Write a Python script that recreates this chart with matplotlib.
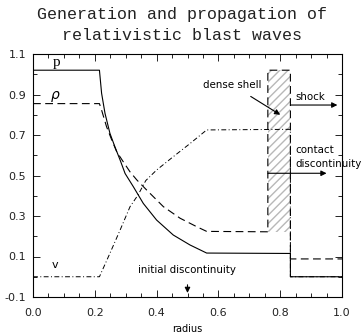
import matplotlib

matplotlib.use("Agg")
import matplotlib.pyplot as plt
from matplotlib.patches import Rectangle
from matplotlib.ticker import MultipleLocator

# pressure (solid)
p_r = [0.0, 0.215, 0.222, 0.233, 0.249, 0.265, 0.282, 0.298, 0.325, 0.357,
       0.400, 0.454, 0.508, 0.562, 0.833, 0.833, 1.0]
p_val = [1.02, 1.02, 0.906, 0.807, 0.708, 0.642, 0.576, 0.510, 0.444, 0.362,
         0.280, 0.206, 0.157, 0.117, 0.115, 0.0, 0.0]

# density (dashed)
rho_r = [0.0, 0.215, 0.222, 0.238, 0.255, 0.271, 0.292, 0.314, 0.336, 0.368,
         0.422, 0.476, 0.530, 0.562, 0.760, 0.760, 0.833, 0.833, 1.0]
rho_val = [0.855, 0.855, 0.823, 0.741, 0.675, 0.617, 0.568, 0.518, 0.478, 0.428,
           0.346, 0.289, 0.247, 0.224, 0.222, 1.02, 1.02, 0.088, 0.088]

# velocity (dash-dot)
v_r = [0.0, 0.215, 0.249, 0.282, 0.314, 0.340, 0.365, 0.400, 0.454, 0.510,
       0.562, 0.833, 0.833, 1.0]
v_val = [0.0, 0.0, 0.116, 0.231, 0.346, 0.404, 0.475, 0.527, 0.593, 0.660,
         0.725, 0.728, 0.0, 0.0]

# dense shell between contact discontinuity and shock
shell_r = (0.760, 0.833)
shell_rho = (0.222, 1.02)

fig = plt.figure(figsize=(3.64, 3.36), dpi=100)
ax = fig.add_axes([33 / 364, 39 / 336, 309 / 364, 243 / 336])

ax.add_patch(Rectangle((shell_r[0], shell_rho[0]), shell_r[1] - shell_r[0],
                       shell_rho[1] - shell_rho[0], fill=False, hatch="////",
                       edgecolor="#b8b8b8", lw=0))
ax.plot(p_r, p_val, color="black", lw=0.8)
ax.plot(rho_r, rho_val, color="black", lw=0.8, dashes=(7, 4))
ax.plot(v_r, v_val, color="black", lw=0.7, dashes=(5, 2.5, 1, 2.5))

serif = ["Liberation Serif", "DejaVu Serif"]
ax.text(0.077, 1.06, "p", family=serif, fontsize=11, ha="center", va="center")
ax.text(0.071, 0.89, r"$\rho$", fontsize=10, ha="center", va="center")
ax.text(0.071, 0.058, "v", fontsize=8, ha="center", va="center")

txt = dict(fontsize=7.4, color="black")
arrow = dict(arrowstyle="-|>", color="black", lw=0.8, mutation_scale=8)
ax.annotate("initial discontinuity", xy=(0.5, -0.08), xytext=(0.5, 0.033),
            ha="center", va="center", **txt,
            arrowprops=dict(arrow, shrinkA=5, shrinkB=0))
ax.annotate("dense shell", xy=(0.80, 0.80), xytext=(0.645, 0.947),
            ha="center", va="center", **txt,
            arrowprops=dict(arrow, shrinkA=5, shrinkB=0))
ax.annotate("", xy=(0.985, 0.848), xytext=(0.833, 0.848),
            arrowprops=dict(arrow, shrinkA=0, shrinkB=0))
ax.text(0.848, 0.886, "shock", ha="left", va="center", **txt)
ax.annotate("", xy=(0.95, 0.511), xytext=(0.760, 0.511),
            arrowprops=dict(arrow, shrinkA=0, shrinkB=0))
ax.text(0.848, 0.626, "contact", ha="left", va="center", **txt)
ax.text(0.848, 0.557, "discontinuity", ha="left", va="center", **txt)

ax.set_xlim(0, 1)
ax.set_ylim(-0.1, 1.1)
ax.xaxis.set_major_locator(MultipleLocator(0.2))
ax.xaxis.set_minor_locator(MultipleLocator(0.05))
ax.set_yticks([-0.1, 0.1, 0.3, 0.5, 0.7, 0.9, 1.1])
ax.yaxis.set_minor_locator(MultipleLocator(0.1))
ax.tick_params(which="both", direction="in", top=True, right=True,
               labelsize=8, width=0.6, colors="black", labelcolor="#222222")
ax.tick_params(which="major", length=5)
ax.tick_params(which="minor", length=3)
ax.tick_params(axis="x", pad=8)
ax.tick_params(axis="y", pad=5)
ax.xaxis.set_major_formatter(plt.FormatStrFormatter("%.1f"))
ax.yaxis.set_major_formatter(plt.FormatStrFormatter("%.1f"))
for s in ax.spines.values():
    s.set_linewidth(0.8)
ax.set_xlabel("radius", fontsize=7, labelpad=4)

fig.suptitle("Generation and propagation of\nrelativistic blast waves",
             family=["Liberation Mono", "DejaVu Sans Mono"], fontsize=12,
             color="#222222", y=0.978, linespacing=1.5)

fig.savefig("out.png", dpi=100)
